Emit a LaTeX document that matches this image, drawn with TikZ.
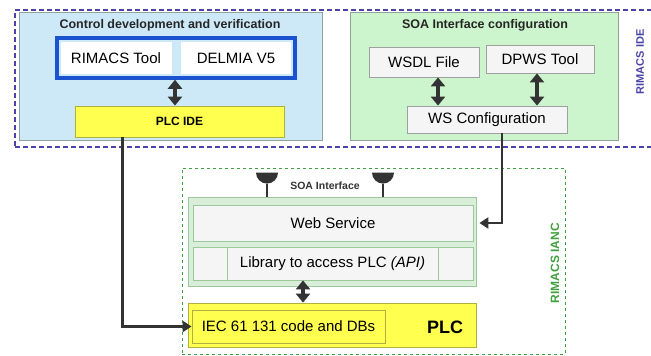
\documentclass[tikz,border=0pt]{standalone}
\usepackage{fontspec}
\setmainfont{Liberation Sans}
\usetikzlibrary{arrows.meta,shapes.geometric}
\definecolor{idecol}{HTML}{4A44A8}
\definecolor{ctrlfill}{HTML}{CDE9F8}
\definecolor{toolcol}{HTML}{1A52D0}
\definecolor{soafill}{HTML}{CDF5CD}
\definecolor{panelline}{HTML}{8FA39A}
\definecolor{boxfill}{HTML}{F5F5F5}
\definecolor{boxline}{HTML}{A0A0A0}
\definecolor{plcyellow}{HTML}{FFFF50}
\definecolor{plcline}{HTML}{B0B040}
\definecolor{ianccol}{HTML}{40A040}
\definecolor{framefill}{HTML}{D8EED8}
\definecolor{frameline}{HTML}{9CC89C}
\definecolor{arrowcol}{HTML}{333333}

\begin{document}
\begin{tikzpicture}[x=1pt,y=-1pt,
    box/.style={draw=boxline,fill=boxfill,thick,inner sep=0pt,
        font=\fontsize{15}{17}\selectfont},
    title/.style={font=\bfseries\fontsize{12.5}{14}\selectfont,text=black!85},
    dbl/.style={{Triangle[width=14pt,length=9pt]}-{Triangle[width=14pt,length=9pt]},
        line width=4pt,draw=arrowcol},
    conn/.style={-{Triangle[width=11pt,length=9pt]},line width=2.5pt,draw=arrowcol}]
    \useasboundingbox (0,0) rectangle (651,356);

    % RIMACS IDE
    \node (ide) [draw=idecol,dash pattern=on 5pt off 3pt,line width=1.8pt,minimum width=650pt,
        minimum height=137pt] at (340,78.5) {};
    \node (idelabel) [rotate=90,text=idecol,font=\bfseries\fontsize{11}{13}\selectfont]
        at (640,62) {RIMACS IDE};

    \node (ctrl) [draw=panelline,fill=ctrlfill,minimum width=303pt,
        minimum height=128pt] at (170.5,76) {};
    \node (ctrltitle) [title] at (170,25) {Control development and verification};
    \node (tools) [draw=toolcol,line width=3.5pt,minimum width=238pt,
        minimum height=40pt] at (176,58) {};
    \begin{scope}[every node/.style={box,draw=none,fill=white,minimum height=32pt}]
        \node (rimacs) [minimum width=111pt] at (116,58) {RIMACS Tool};
        \node (delmia) [minimum width=110pt] at (236,58) {DELMIA V5};
    \end{scope}
    \node (plcide) [box,fill=plcyellow,draw=plcline,minimum width=209pt,
        minimum height=31pt,font=\bfseries\fontsize{12}{14}\selectfont] at (179.5,121.5) {PLC IDE};
    \draw[dbl] (tools.south -| 175,0) -- (plcide.north -| 175,0);

    \node (soa) [draw=panelline,fill=soafill,minimum width=268pt,
        minimum height=128pt] at (484,76) {};
    \node (soatitle) [title] at (485,25) {SOA Interface configuration};
    \begin{scope}[every node/.style={box}]
        \node (wsdl) [minimum width=110pt,minimum height=30pt] at (424,62) {WSDL File};
        \node (dpws) [minimum width=108pt,minimum height=28pt] at (540,59) {DPWS Tool};
        \node (wscfg) [minimum width=160pt,minimum height=27pt] at (487,119.5) {WS Configuration};
    \end{scope}
    \draw[dbl] (wsdl.south -| 438,0) -- (wscfg.north -| 438,0);
    \draw[dbl] (dpws.south -| 537,0) -- (wscfg.north -| 537,0);

    % RIMACS IANC
    \node (ianc) [draw=ianccol,dashed,thick,minimum width=383pt,
        minimum height=186pt] at (373.5,261) {};
    \node (ianclabel) [rotate=90,text=ianccol,font=\bfseries\fontsize{12}{14}\selectfont]
        at (555,263) {RIMACS IANC};

    \node (wsframe) [draw=frameline,fill=framefill,thick,minimum width=288pt,
        minimum height=89pt] at (332,241.5) {};
    \node (soaif) [font=\bfseries\fontsize{10.5}{12}\selectfont,text=black!80] at (325,186) {SOA Interface};
    \begin{scope}[every node/.style={semicircle,shape border rotate=180,fill=arrowcol,
            minimum size=11pt,inner sep=0pt}]
        \node (lpleft) at (267,177) {};
        \node (lpright) at (383,177) {};
    \end{scope}
    \draw[line width=2pt,arrowcol] (lpleft) -- (lpleft |- wsframe.north);
    \draw[line width=2pt,arrowcol] (lpright) -- (lpright |- wsframe.north);

    \begin{scope}[every node/.style={box,draw=frameline}]
        \node (web) [minimum width=280pt,minimum height=36pt] at (333,223) {Web Service};
        \node (libleft) [minimum width=34pt,minimum height=33pt] at (210,263.5) {};
        \node (lib) [minimum width=211pt,minimum height=33pt] at (332.5,263.5)
            {Library to access PLC \textit{(API)}};
        \node (libright) [minimum width=35pt,minimum height=33pt] at (455.5,263.5) {};
    \end{scope}

    \node (plc) [draw=plcline,fill=plcyellow,thick,minimum width=288pt,
        minimum height=44pt] at (332,325) {};
    \node (iec) [box,fill=plcyellow,draw=plcline,minimum width=193pt,
        minimum height=33pt] at (288.5,326.5) {IEC 61 131 code and DBs};
    \node (plclabel) [font=\bfseries\fontsize{18}{20}\selectfont] at (445,327) {PLC};
    \draw[dbl] (lib.south -| 303,0) -- (plc.north -| 303,0);

    \draw[conn] ([xshift=-57pt]plcide.south) |- (iec.west);
    \draw[conn] ([xshift=15pt]wscfg.south) |- ([xshift=3pt]wsframe.east |- web.east);
\end{tikzpicture}
\end{document}
